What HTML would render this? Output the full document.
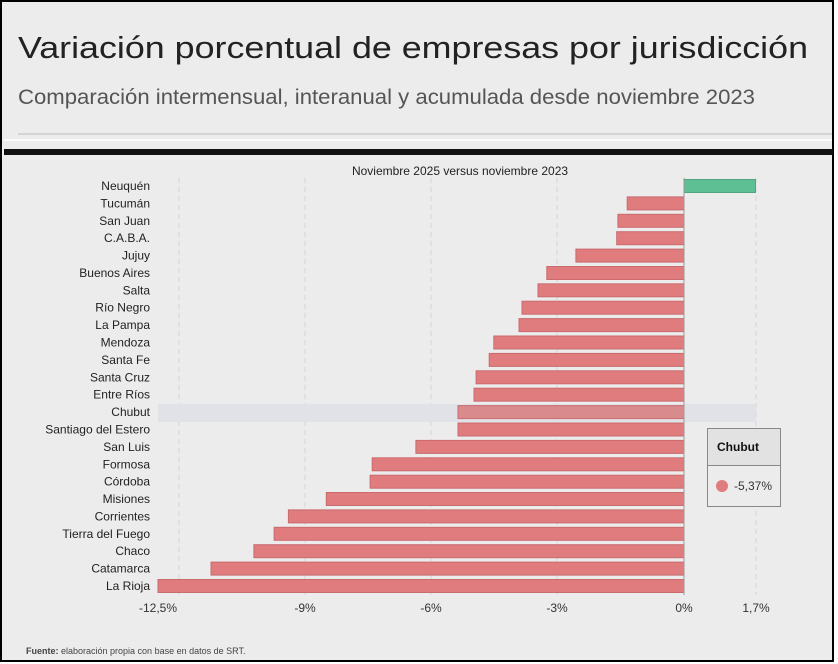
<!DOCTYPE html>
<html><head><meta charset="utf-8"><style>
body{margin:0;background:#fff}
svg{display:block;font-family:"Liberation Sans",sans-serif}
</style></head><body>
<svg width="838" height="664" viewBox="0 0 838 664">
<rect x="0" y="0" width="838" height="664" fill="#fff"/>
<rect x="1" y="1" width="832" height="660" fill="#ececec" stroke="#000" stroke-width="2"/>
<text x="18" y="58" font-size="31" fill="#222" textLength="790" lengthAdjust="spacingAndGlyphs">Variación porcentual de empresas por jurisdicción</text>
<text x="18" y="104" font-size="21" fill="#555" textLength="737" lengthAdjust="spacingAndGlyphs">Comparación intermensual, interanual y acumulada desde noviembre 2023</text>
<line x1="18" y1="134" x2="832" y2="134" stroke="#bbb" stroke-width="1"/>
<line x1="4" y1="140" x2="832" y2="140" stroke="#fafafa" stroke-width="2"/>
<rect x="4" y="149" width="829" height="6" fill="#111"/>
<text x="460" y="175" font-size="12" fill="#222" text-anchor="middle">Noviembre 2025 versus noviembre 2023</text>
<g stroke="#d4d4d4" stroke-dasharray="5,4">
<line x1="179" y1="178" x2="179" y2="595"/><line x1="305" y1="178" x2="305" y2="595"/>
<line x1="431" y1="178" x2="431" y2="595"/><line x1="557" y1="178" x2="557" y2="595"/>
<line x1="756" y1="178" x2="756" y2="595"/>
</g>
<rect x="158" y="404" width="598" height="18" fill="#e0e2e8"/>
<g fill="#e07b7e" stroke="#c96b6e" stroke-width="1">
<rect x="684" y="179.5" width="71.5" height="13" fill="#5fbf94" stroke="#4fa57f"/>
<rect x="627.2" y="196.9" width="56.8" height="13"/>
<rect x="617.9" y="214.3" width="66.1" height="13"/>
<rect x="616.7" y="231.7" width="67.3" height="13"/>
<rect x="575.9" y="249.1" width="108.1" height="13"/>
<rect x="546.8" y="266.5" width="137.2" height="13"/>
<rect x="538" y="283.8" width="146" height="13"/>
<rect x="522" y="301.2" width="162" height="13"/>
<rect x="519" y="318.6" width="165" height="13"/>
<rect x="493.8" y="336" width="190.2" height="13"/>
<rect x="489.2" y="353.4" width="194.8" height="13"/>
<rect x="476.1" y="370.8" width="207.9" height="13"/>
<rect x="474" y="388.2" width="210" height="13"/>
<rect x="458" y="405.6" width="226" height="13" fill="#d98a8d"/>
<rect x="458" y="423" width="226" height="13"/>
<rect x="415.9" y="440.4" width="268.1" height="13"/>
<rect x="372.2" y="457.8" width="311.8" height="13"/>
<rect x="370.1" y="475.2" width="313.9" height="13"/>
<rect x="326.3" y="492.5" width="357.7" height="13"/>
<rect x="288.4" y="509.9" width="395.6" height="13"/>
<rect x="274.1" y="527.3" width="409.9" height="13"/>
<rect x="253.9" y="544.7" width="430.1" height="13"/>
<rect x="211" y="562.1" width="473" height="13"/>
<rect x="158" y="579.5" width="526" height="13"/>
</g>
<line x1="684" y1="178" x2="684" y2="595" stroke="#999"/>
<g font-size="12" fill="#222" text-anchor="end">
<text x="150" y="190">Neuquén</text>
<text x="150" y="207.4">Tucumán</text>
<text x="150" y="224.8">San Juan</text>
<text x="150" y="242.2">C.A.B.A.</text>
<text x="150" y="259.6">Jujuy</text>
<text x="150" y="277">Buenos Aires</text>
<text x="150" y="294.3">Salta</text>
<text x="150" y="311.7">Río Negro</text>
<text x="150" y="329.1">La Pampa</text>
<text x="150" y="346.5">Mendoza</text>
<text x="150" y="363.9">Santa Fe</text>
<text x="150" y="381.3">Santa Cruz</text>
<text x="150" y="398.7">Entre Ríos</text>
<text x="150" y="416.1">Chubut</text>
<text x="150" y="433.5">Santiago del Estero</text>
<text x="150" y="450.9">San Luis</text>
<text x="150" y="468.3">Formosa</text>
<text x="150" y="485.7">Córdoba</text>
<text x="150" y="503">Misiones</text>
<text x="150" y="520.4">Corrientes</text>
<text x="150" y="537.8">Tierra del Fuego</text>
<text x="150" y="555.2">Chaco</text>
<text x="150" y="572.6">Catamarca</text>
<text x="150" y="590">La Rioja</text>
</g>
<g font-size="12" fill="#333" text-anchor="middle">
<text x="158" y="612">-12,5%</text><text x="305" y="612">-9%</text><text x="431" y="612">-6%</text>
<text x="557" y="612">-3%</text><text x="684" y="612">0%</text><text x="756" y="612">1,7%</text>
</g>
<rect x="707.5" y="428.5" width="73" height="78" fill="#ececec" stroke="#888"/>
<rect x="708" y="429" width="72" height="36" fill="#e2e2e2"/>
<line x1="707.5" y1="465.5" x2="780.5" y2="465.5" stroke="#888"/>
<text x="717" y="451" font-size="12" font-weight="bold" fill="#111">Chubut</text>
<circle cx="722" cy="486" r="6" fill="#e07b7e"/>
<text x="734" y="490" font-size="12" fill="#333">-5,37%</text>
<text x="26" y="654" font-size="9" fill="#444"><tspan font-weight="bold">Fuente:</tspan> elaboración propia con base en datos de SRT.</text>
</svg>
</body></html>
